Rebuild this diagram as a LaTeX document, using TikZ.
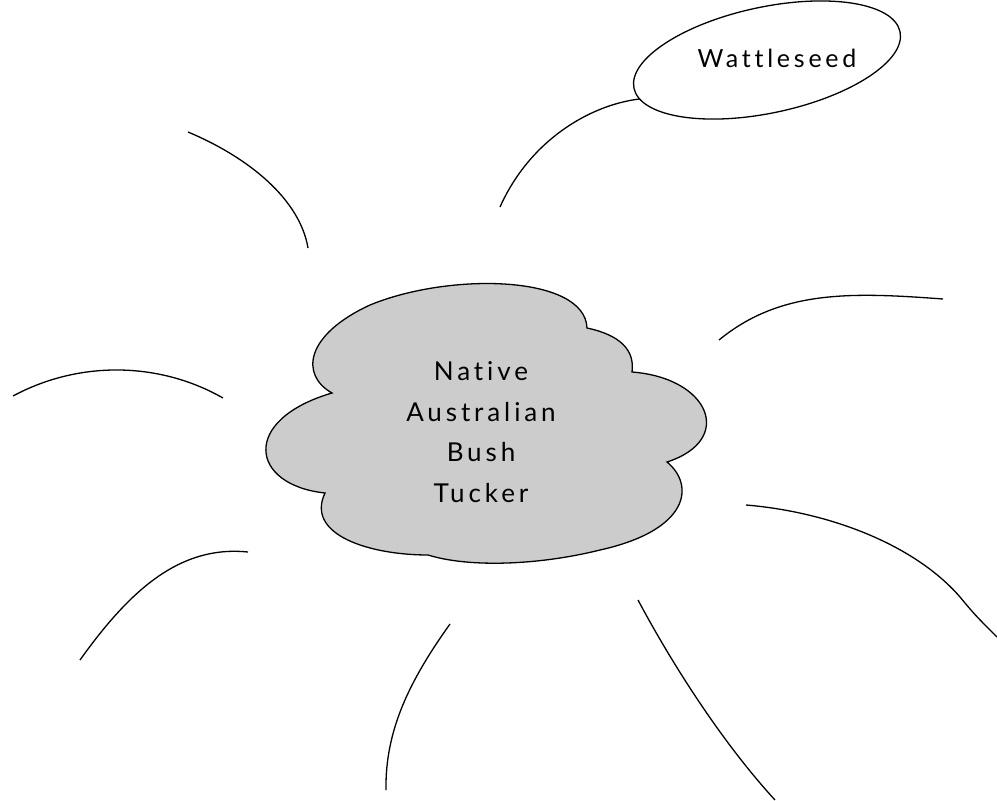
\documentclass[tikz,border=0pt]{standalone}
\usepackage{fontspec}
\setmainfont{Lato}[LetterSpace=15, Ligatures=NoCommon]
\usepackage{xcolor}
\usepackage{tikz}
\definecolor{cloudgray}{HTML}{cccccc}
\usetikzlibrary{shapes, positioning, calc}

\begin{document}
\begin{tikzpicture}[x=1pt, y=-1pt,
    branch/.style={line width=1.3pt},
    bigtext/.style={font=\fontsize{26}{40.5}\selectfont, align=center}]
    \useasboundingbox (0,0) rectangle (997,801);

    % Cloud
    \draw[line width=1.3pt, fill=cloudgray] (332,393)
        .. controls (300,375) and (305,335) .. (370,305)
        .. controls (450,272) and (585,275) .. (587,328)
        .. controls (620,335) and (635,350) .. (632,372)
        .. controls (710,378) and (735,440) .. (667,462)
        .. controls (695,485) and (690,530) .. (600,550)
        .. controls (540,565) and (470,568) .. (428,555)
        .. controls (370,555) and (305,535) .. (325,493)
        .. controls (250,485) and (240,420) .. (332,393) -- cycle;

    % Centre text
    \node[bigtext] (tucker) at (481,432) {Native\\Australian\\Bush\\Tucker};

    % Wattleseed
    \node[draw, ellipse, line width=1.3pt, rotate=12, minimum width=272, minimum height=106, inner sep=0pt, outer sep=0pt] (wattle) at (767,60) {};
    \node[bigtext, font=\fontsize{25}{28}\selectfont] (wattletext) at (777,58) {Wattleseed};

    % Branch ends
    \coordinate (nIn) at (500,207);
    \coordinate (nwOut) at (188,132);
    \coordinate (nwIn) at (308,248);
    \coordinate (eIn) at (719,340);
    \coordinate (eOut) at (943,299);
    \coordinate (wOut) at (13,396);
    \coordinate (wIn) at (223,398);
    \coordinate (seIn) at (746,505);
    \coordinate (seBend) at (960,597);
    \coordinate (seOut) at (997,637);
    \coordinate (swIn) at (248,552);
    \coordinate (swOut) at (80,660);
    \coordinate (sIn) at (450,624);
    \coordinate (sOut) at (386,790);
    \coordinate (sseIn) at (638,600);
    \coordinate (sseOut) at (775,800);

    % Branches
    \draw[branch] (nIn) .. controls (530,140) and (590,105) .. (wattle.185.5);
    \draw[branch] (nwOut) .. controls (250,158) and (300,200) .. (nwIn);
    \draw[branch] (eIn) .. controls (780,290) and (850,292) .. (eOut);
    \draw[branch] (wOut) .. controls (80,360) and (160,362) .. (wIn);
    \draw[branch] (seIn) .. controls (830,512) and (915,545) .. (seBend) .. controls (975,615) .. (seOut);
    \draw[branch] (swIn) .. controls (180,545) and (130,590) .. (swOut);
    \draw[branch] (sIn) .. controls (410,680) and (385,730) .. (sOut);
    \draw[branch] (sseIn) .. controls (670,660) and (720,740) .. (sseOut);
\end{tikzpicture}
\end{document}
